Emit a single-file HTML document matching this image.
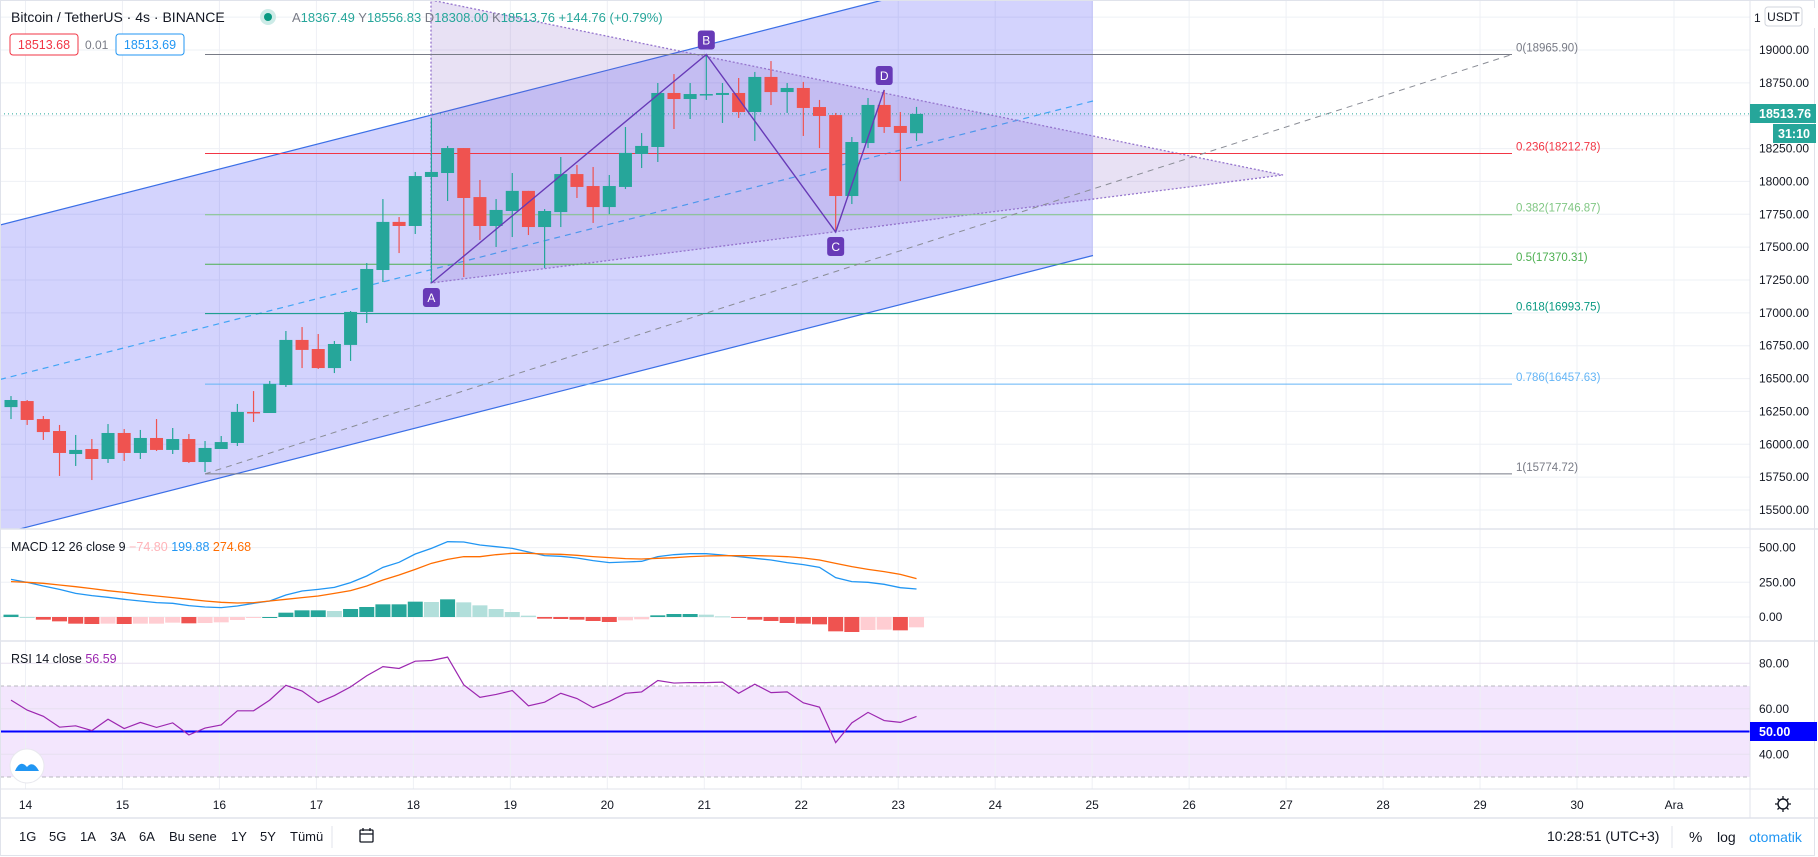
<!DOCTYPE html>
<html><head><meta charset="utf-8">
<style>
html,body{margin:0;padding:0;background:#fff;}
body{width:1818px;height:857px;overflow:hidden;position:relative;font-family:"Liberation Sans",sans-serif;}
svg{position:absolute;left:0;top:0;}
text{font-family:"Liberation Sans",sans-serif;}
</style></head>
<body>
<svg id="chart" width="1818" height="857" viewBox="0 0 1818 857">
  <defs>
    <clipPath id="pclip"><rect x="0" y="0" width="1750" height="529"/></clipPath>
  </defs>
  <g id="grid"></g>
  <g id="drawBack" clip-path="url(#pclip)"></g>
  <g id="candles" clip-path="url(#pclip)"></g>
  <g id="drawFront" clip-path="url(#pclip)"></g>
  <g id="macdG"></g>
  <g id="rsiG"></g>
  <g id="axes"></g>
</svg>
<script>
const NS='http://www.w3.org/2000/svg';
// ---- data ----
const opens=[16283,16329,16192,16101,15926,15964,15888,16086,15934,16048,15957,16040,15865,15964,16010,16246,16238,16451,16794,16725,16580,16756,17007,17326,17692,17661,18034,18064,18254,17881,17661,17775,17928,17653,17767,18056,17965,17805,17958,18209,18262,18673,18627,18658,18658,18673,18528,18795,18680,18711,18566,18505,17889,18292,18582,18422,18367];
const highs=[16367,16337,16215,16147,16071,16040,16154,16116,16109,16192,16124,16078,16025,16063,16307,16405,16482,16862,16892,16839,16786,17014,17379,17866,17729,18072,18483,18270,18254,18011,17866,18064,17928,17790,18186,18125,18110,18049,18414,18368,18749,18817,18749,18966,18749,18787,18833,18916,18749,18757,18620,18521,18338,18635,18696,18528,18567];
const lows=[16192,16147,16033,15759,15835,15728,15858,15873,15888,15949,15926,15858,15789,15964,15987,16170,16238,16436,16580,16573,16542,16634,16923,17235,17455,17600,17227,17851,17273,17554,17501,17577,17592,17341,17653,17874,17684,17752,17942,18102,18148,18399,18475,18620,18445,18483,18308,18581,18521,18346,18254,17615,17828,18254,18369,18003,18308];
const closes=[16337,16185,16093,15934,15957,15888,16086,15934,16048,15957,16040,15865,15972,16017,16246,16238,16459,16794,16718,16580,16763,17007,17334,17692,17661,18041,18072,18254,17874,17661,17783,17928,17653,17775,18056,17958,17805,17965,18217,18270,18673,18627,18665,18665,18673,18528,18795,18680,18711,18559,18498,17889,18300,18582,18414,18369,18514];
const macdLine=[271.4,249.8,223.4,199.3,170.5,153.7,141.7,127.3,115.3,103.3,98.5,81.7,72.0,67.3,79.3,98.5,115.3,158.5,187.3,199.3,213.7,247.4,295.4,357.8,393.9,453.9,494.7,542.7,540.3,518.7,506.7,494.7,468.3,441.9,437.1,425.1,405.9,391.5,396.3,401.1,434.7,449.1,456.3,456.3,446.7,434.7,422.7,410.7,391.5,377.1,357.8,283.4,254.6,249.8,235.4,211.3,201.7];
const signalLine=[254.6,249.8,242.6,230.6,218.5,204.2,189.7,177.7,163.3,151.3,139.3,127.3,115.3,105.7,100.9,103.3,115.3,127.3,139.3,151.3,170.5,189.7,223.4,266.6,302.6,343.4,386.7,415.5,434.7,434.7,449.1,458.7,458.7,453.9,451.5,444.3,434.7,427.5,420.3,417.9,422.7,427.5,434.7,439.5,441.9,441.9,441.9,439.5,434.7,425.1,410.7,386.7,362.6,343.4,326.6,307.4,276.2];
const rsiValues=[63.8,59.4,56.7,51.9,52.5,50.4,55.4,51.3,54.0,51.8,53.8,48.5,51.5,52.9,59.1,59.1,63.8,70.3,67.8,62.7,65.8,69.6,74.5,78.5,77.7,80.9,81.2,82.7,70.5,65.0,66.3,68.0,61.3,62.9,66.8,64.5,60.5,63.2,66.8,67.4,72.4,71.3,71.5,71.5,71.7,66.8,70.8,67.1,67.4,62.6,60.7,45.1,53.8,58.4,54.8,54.0,56.6];
const priceTicks=[19250,19000,18750,18500,18250,18000,17750,17500,17250,17000,16750,16500,16250,16000,15750,15500];
const priceTickLabels=["","19000.00","18750.00","","18250.00","18000.00","17750.00","17500.00","17250.00","17000.00","16750.00","16500.00","16250.00","16000.00","15750.00","15500.00"];
const macdTicks=[500,250,0];
const macdTickLabels=["500.00","250.00","0.00"];
const rsiTicks=[80,60,40];
const rsiTickLabels=["80.00","60.00","40.00"];
const dayNums=[14,15,16,17,18,19,20,21,22,23,24,25,26,27,28,29,30,31];
const dayLabels=["14","15","16","17","18","19","20","21","22","23","24","25","26","27","28","29","30","Ara"];
const fibRatios=[0,0.236,0.382,0.5,0.618,0.786,1];
const fibPrices=[18965.90,18212.78,17746.87,17370.31,16993.75,16457.63,15774.72];
const fibColors=["#787b86","#f23645","#81c784","#4caf50","#089981","#64b5f6","#787b86"];
const abcdIdx=[26,43,51,54];
const abcdPrice=[17227,18965.9,17615,18696];
const abcdNames=["A","B","C","D"];
const lastPrice=18513.76;

// ---- scales ----
const xI=i=>11+16.17*i;
const yP=v=>50+(19000-v)*0.131429;
const yM=v=>617-v*0.1388;
const yR=v=>731.5-(v-50)*2.275;
const xD=d=>25.5+96.97*(d-14);

function el(tag,attrs,parent,txt){const e=document.createElementNS(NS,tag);for(const k in attrs)e.setAttribute(k,attrs[k]);if(txt!==undefined)e.textContent=txt;parent.appendChild(e);return e;}
const grid=document.getElementById('grid'),back=document.getElementById('drawBack'),cg=document.getElementById('candles'),front=document.getElementById('drawFront'),mg=document.getElementById('macdG'),rg=document.getElementById('rsiG'),ax=document.getElementById('axes');

// RSI band (behind grid)
const band=el('rect',{x:0,y:yR(70),width:1750,height:yR(30)-yR(70),fill:'#f3e6fd'},grid);



// grid
dayNums.forEach((d,k)=>{const g=el('line',{x1:xD(d),x2:xD(d),y1:0,y2:789,stroke:'#eef0f5','stroke-width':1},grid);

});
priceTicks.forEach(v=>{const g=el('line',{x1:0,x2:1750,y1:yP(v),y2:yP(v),stroke:'#eef0f5'},grid);

});
macdTicks.forEach(v=>{const g=el('line',{x1:0,x2:1750,y1:yM(v),y2:yM(v),stroke:'#eef0f5'},grid);

});
rsiTicks.forEach(v=>{const g=el('line',{x1:0,x2:1750,y1:yR(v),y2:yR(v),stroke:'#e8e0f0'},grid);

});

// channel
const ch=el('polygon',{points:'0,225 883,0 1093,0 1093,255.5 0,534',fill:'rgba(33,33,243,0.2)'},back);


const cu=el('line',{x1:0,y1:225,x2:883,y2:0,stroke:'#3b6fe6','stroke-width':1.2},back);


const cl=el('line',{x1:0,y1:534,x2:1093,y2:255.5,stroke:'#3b6fe6','stroke-width':1.2},back);


const cm=el('line',{x1:0,y1:379.5,x2:1093,y2:101,stroke:'#42a5f5','stroke-width':1.2,'stroke-dasharray':'6 5'},back);


// triangle
const tri=el('polygon',{points:'431,0 1283,175 431,283',fill:'rgba(126,87,194,0.18)',stroke:'#9575cd','stroke-width':1.3,'stroke-dasharray':'2 2'},back);


// fib
const fx1=205,fx2=1512;
fibPrices.forEach((p,k)=>{const l=el('line',{x1:fx1,x2:fx2,y1:yP(p),y2:yP(p),stroke:fibColors[k],'stroke-width':1},back);

});
const ft=el('line',{x1:fx1,y1:yP(fibPrices[6]),x2:fx2,y2:yP(fibPrices[0]),stroke:'#8a8d96','stroke-width':1,'stroke-dasharray':'6 5'},back);


// price line
const pl=el('line',{x1:0,x2:1750,y1:yP(lastPrice),y2:yP(lastPrice),stroke:'#26a69a','stroke-width':1,'stroke-dasharray':'1 3'},back);



// candles
opens.forEach((o,i)=>{const c=closes[i],up=c>=o,col=up?'#26a69a':'#ef5350',x=xI(i);
const w=el('line',{x1:x,x2:x,y1:yP(highs[i]),y2:yP(lows[i]),stroke:col,'stroke-width':1.2},cg);


const top=yP(Math.max(o,c)),h=Math.max(1.5,yP(Math.min(o,c))-top);
const b=el('rect',{x:x-6.5,y:top,width:13,height:h,fill:col},cg);

});

// ABCD
const pts=abcdIdx.map((ix,k)=>xI(ix)+','+yP(abcdPrice[k])).join(' ');
const ab=el('polyline',{points:pts,fill:'none',stroke:'#673ab7','stroke-width':1.4},front);


abcdNames.forEach((n,k)=>{const x=xI(abcdIdx[k]),y=yP(abcdPrice[k]);const below=(k%2===0);
const by=below?y+5:y-24;
const r=el('rect',{x:x-8.5,y:by,width:17,height:19,rx:3,fill:'#673ab7'},front);


const t=el('text',{x:x,y:by+14,'text-anchor':'middle','font-size':12,fill:'#fff'},front,n);

});

// fib labels
const fibTexts=["0(18965.90)","0.236(18212.78)","0.382(17746.87)","0.5(17370.31)","0.618(16993.75)","0.786(16457.63)","1(15774.72)"];
fibPrices.forEach((p,k)=>{const t=el('text',{x:1516,y:yP(p)-3,'font-size':11.5,fill:fibColors[k]},ax,fibTexts[k]);

});

// MACD
const hist=macdLine.map((m,i)=>m-signalLine[i]);
hist.forEach((h,i)=>{const prev=i>0?hist[i-1]:h;let col;
if(h>=0)col=h>=prev?'#26a69a':'#b2dfdb';else col=h<prev?'#ef5350':'#ffcdd2';
const y0=yM(0),y1=yM(h);
const r=el('rect',{x:xI(i)-7.5,y:Math.min(y0,y1),width:15,height:Math.max(1,Math.abs(y1-y0)),fill:col},mg);

});
const mlp=el('polyline',{points:macdLine.map((v,i)=>xI(i)+','+yM(v)).join(' '),fill:'none',stroke:'#2196f3','stroke-width':1.3},mg);


const slp=el('polyline',{points:signalLine.map((v,i)=>xI(i)+','+yM(v)).join(' '),fill:'none',stroke:'#ff6d00','stroke-width':1.3},mg);



// RSI
[70,30].forEach(v=>{const l=el('line',{x1:0,x2:1750,y1:yR(v),y2:yR(v),stroke:'#b8b8c0','stroke-dasharray':'4 3'},rg);

});
const r50=el('line',{x1:0,x2:1750,y1:yR(50),y2:yR(50),stroke:'#0000ff','stroke-width':2},rg);


const rp=el('polyline',{points:rsiValues.map((v,i)=>xI(i)+','+yR(v)).join(' '),fill:'none',stroke:'#9c27b0','stroke-width':1.2},rg);



// axes
priceTicks.forEach((v,k)=>{if(!priceTickLabels[k])return;const t=el('text',{x:1759,y:yP(v)+4,'font-size':12,fill:'#131722'},ax,priceTickLabels[k]);

});
macdTicks.forEach((v,k)=>{const t=el('text',{x:1759,y:yM(v)+4,'font-size':12,fill:'#131722'},ax,macdTickLabels[k]);

});
rsiTicks.forEach((v,k)=>{const t=el('text',{x:1759,y:yR(v)+4,'font-size':12,fill:'#131722'},ax,rsiTickLabels[k]);

});
dayNums.forEach((d,k)=>{const t=el('text',{x:xD(d),y:809,'text-anchor':'middle','font-size':12,fill:'#131722'},ax,dayLabels[k]);

});
</script>
<svg width="1818" height="857" viewBox="0 0 1818 857" style="pointer-events:none">
  <line x1="0" y1="529" x2="1750" y2="529" stroke="#e0e3eb" stroke-width="1.5"/>
  <line x1="0" y1="641" x2="1818" y2="641" stroke="#e0e3eb" stroke-width="1.5"/>
  <line x1="1750" y1="529" x2="1818" y2="529" stroke="#e0e3eb" stroke-width="1.5"/>
  <line x1="0" y1="789" x2="1818" y2="789" stroke="#e0e3eb" stroke-width="1"/>
  <line x1="1750" y1="0" x2="1750" y2="818" stroke="#e0e3eb" stroke-width="1"/>
  <line x1="0" y1="818" x2="1818" y2="818" stroke="#e0e3eb" stroke-width="1.5"/>
  <rect x="0.5" y="0.5" width="1814" height="855" fill="none" stroke="#e0e3eb"/>
  <text x="11" y="22" font-size="14" fill="#131722">Bitcoin / TetherUS · 4s · BINANCE</text>
  <circle cx="268" cy="17" r="8" fill="#cdebe7"/>
  <circle cx="268" cy="17" r="4" fill="#089981"/>
  <text x="292" y="22" font-size="13" fill="#26a69a"><tspan fill="#787b86">A</tspan>18367.49 <tspan fill="#787b86">Y</tspan>18556.83 <tspan fill="#787b86">D</tspan>18308.00 <tspan fill="#787b86">K</tspan>18513.76 +144.76 (+0.79%)</text>
  <rect x="10" y="34" width="68" height="21" rx="3" fill="#fff" stroke="#f23645"/>
  <text x="44" y="49" font-size="12.5" fill="#f23645" text-anchor="middle">18513.68</text>
  <text x="85" y="49" font-size="12" fill="#787b86">0.01</text>
  <rect x="116" y="34" width="68" height="21" rx="3" fill="#fff" stroke="#2196f3"/>
  <text x="150" y="49" font-size="12.5" fill="#2196f3" text-anchor="middle">18513.69</text>
  <rect x="1751" y="8" width="64" height="20" fill="#fff"/>
  <text x="1754" y="22" font-size="12" fill="#131722">1</text>
  <rect x="1765" y="7" width="37" height="19" rx="3" fill="#fff" stroke="#d1d4dc"/>
  <text x="1783.5" y="21" font-size="12" fill="#131722" text-anchor="middle">USDT</text>
  <rect x="1750" y="104" width="66" height="19" fill="#26a69a"/>
  <text x="1759" y="118" font-size="12.5" font-weight="bold" fill="#fff">18513.76</text>
  <rect x="1773" y="124" width="43" height="19" fill="#26a69a"/>
  <text x="1778" y="138" font-size="12.5" font-weight="bold" fill="#fff">31:10</text>
  <rect x="1750" y="722" width="67" height="19" fill="#0000ff"/>
  <text x="1759" y="736" font-size="12.5" font-weight="bold" fill="#fff">50.00</text>
  <text x="11" y="551" font-size="12.5" fill="#131722">MACD 12 26 close 9 <tspan fill="#ffb3b8">&#8722;74.80</tspan> <tspan fill="#2196f3">199.88</tspan> <tspan fill="#ff6d00">274.68</tspan></text>
  <text x="11" y="663" font-size="12.5" fill="#131722">RSI 14 close <tspan fill="#9c27b0">56.59</tspan></text>
  <circle cx="27" cy="766" r="17" fill="#fff" stroke="#e8e8ee"/>
  <path d="M15,771 q5,-12 12,-4 q6,-7 12,4 z" fill="#2196f3"/>
  <circle cx="1783" cy="804" r="5" fill="none" stroke="#131722" stroke-width="1.4"/>
  <path d="M1783,796v3M1783,809v3M1775,804h3M1788,804h3M1777.5,798.5l2,2M1786.5,807.5l2,2M1777.5,809.5l2,-2M1786.5,800.5l2,-2" stroke="#131722" stroke-width="1.3"/>
  <g font-size="13" fill="#131722">
    <text x="19" y="841">1G</text>
    <text x="49" y="841">5G</text>
    <text x="80" y="841">1A</text>
    <text x="110" y="841">3A</text>
    <text x="139" y="841">6A</text>
    <text x="169" y="841">Bu sene</text>
    <text x="231" y="841">1Y</text>
    <text x="260" y="841">5Y</text>
    <text x="290" y="841">Tümü</text>
    <text x="1547" y="841" font-size="14">10:28:51 (UTC+3)</text>
    <text x="1689" y="842" font-size="15">%</text>
    <text x="1717" y="842" font-size="14">log</text>
    <text x="1749" y="842" font-size="14" fill="#2196f3">otomatik</text>
  </g>
  <line x1="332" y1="826" x2="332" y2="848" stroke="#e0e3eb"/>
  <line x1="1672" y1="826" x2="1672" y2="848" stroke="#e0e3eb"/>
  <g stroke="#131722" stroke-width="1.3" fill="none">
    <rect x="360" y="830" width="13" height="12" rx="1"/>
    <line x1="360" y1="834" x2="373" y2="834"/>
    <line x1="363" y1="828" x2="363" y2="831"/>
    <line x1="370" y1="828" x2="370" y2="831"/>
  </g>
</svg>
</body></html>
